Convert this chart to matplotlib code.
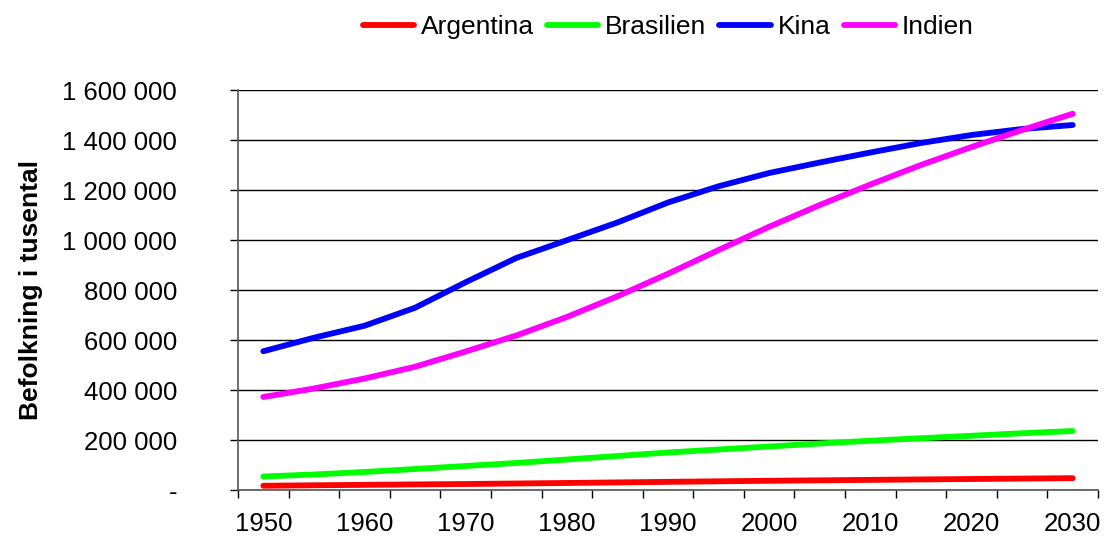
import matplotlib
matplotlib.use("Agg")
from matplotlib import pyplot as plt

plt.rcParams['font.family'] = ['Liberation Sans', 'DejaVu Sans']

years = [1950, 1955, 1960, 1965, 1970, 1975, 1980, 1985, 1990,
         1995, 2000, 2005, 2010, 2015, 2020, 2025, 2030]
argentina = [17000, 18900, 20600, 22300, 24000, 26000, 28100, 30300, 32600,
             34800, 36900, 38700, 40500, 42300, 44000, 45700, 47300]
brasilien = [54000, 62000, 72000, 84000, 96000, 108000, 122000, 136000, 150000,
             162000, 174000, 186000, 197000, 207000, 217000, 227000, 236000]
kina = [555000, 609000, 657000, 729000, 831000, 928000, 999000, 1070000, 1150000,
        1215000, 1268000, 1310000, 1350000, 1388000, 1420000, 1444000, 1460000]
indien = [372000, 406000, 446000, 493000, 554000, 618000, 692000, 775000, 865000,
          960000, 1053000, 1140000, 1222000, 1300000, 1372000, 1440000, 1505000]

series = [("Argentina", argentina, "#ff0000"),
          ("Brasilien", brasilien, "#00ff00"),
          ("Kina", kina, "#0000ff"),
          ("Indien", indien, "#ff00ff")]

fig = plt.figure(figsize=(11.04, 5.37), dpi=100)
ax = fig.add_axes([238 / 1104, 1 - 490 / 537, (1098 - 238) / 1104, 400 / 537])

x = list(range(len(years)))
for name, vals, col in series:
    ax.plot(x, vals, color=col, lw=4.2, label=name, solid_capstyle='round')

ax.set_xlim(-0.5, len(years) - 0.5)
ax.set_ylim(0, 1600000)

# category axis: tick marks between categories, labels every other category
ax.set_xticks([i - 0.5 for i in range(len(years) + 1)])
ax.set_xticklabels([])
ax.set_xticks(x[::2], minor=True)
ax.set_xticklabels([str(y) for y in years[::2]], minor=True, fontsize=18.5)
ax.tick_params(axis='x', which='major', length=6, width=1, direction='out')
ax.tick_params(axis='x', which='minor', length=0, pad=16)

yt = list(range(0, 1600001, 200000))
ax.set_yticks(yt)
ax.set_yticklabels(["-"] + ["{:,}".format(v).replace(",", " ") for v in yt[1:]], fontsize=18.5)
ax.tick_params(axis='y', length=6, width=1, direction='out', pad=38)
ax.yaxis.grid(True, color='black', lw=1)
ax.set_axisbelow(True)

for s in ['top', 'right']:
    ax.spines[s].set_visible(False)
for s in ['left', 'bottom']:
    ax.spines[s].set_color('#555555')
    ax.spines[s].set_linewidth(1.2)

ax.set_ylabel("Befolkning i tusental", fontsize=19, fontweight='bold', labelpad=14)

fig.legend(loc='center', bbox_to_anchor=(668 / 1104, 1 - 27 / 537), ncol=4,
           frameon=False, fontsize=19, handlelength=1.95, handletextpad=0.25,
           columnspacing=0.5)

fig.savefig("out.png", dpi=100)
